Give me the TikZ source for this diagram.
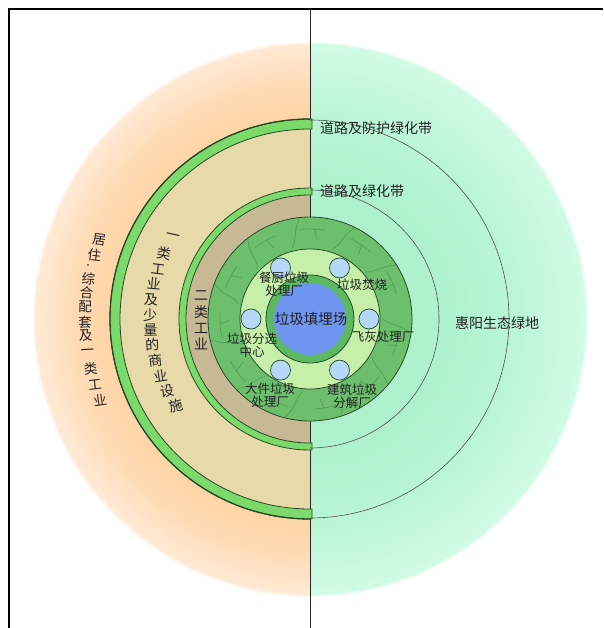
\documentclass[tikz,border=0pt]{standalone}
\usepackage{fontspec}
\newfontfamily\cjk{Noto Sans CJK SC}
\definecolor{oA}{HTML}{FFD3A2}
\definecolor{oB}{HTML}{FFDAB3}
\definecolor{oC}{HTML}{FFEAD6}
\definecolor{gA}{HTML}{ADF2CD}
\definecolor{gB}{HTML}{BBF6D6}
\definecolor{gC}{HTML}{D0FAE5}
\definecolor{tanband}{HTML}{E8D9A9}
\definecolor{darktan}{HTML}{C8B995}
\definecolor{ringgreen}{HTML}{7BDA6B}
\definecolor{ringdark}{HTML}{244A26}
\definecolor{stone}{HTML}{6DBF6E}
\definecolor{crackc}{HTML}{3C8A44}
\definecolor{lightring}{HTML}{C6F0AA}
\definecolor{innerring}{HTML}{5EB861}
\definecolor{pool}{HTML}{6E95EF}
\definecolor{dot}{HTML}{B5D8F8}
\definecolor{txt}{HTML}{222222}
\definecolor{arcc}{HTML}{505050}
\pgfdeclareradialshading{orangefade}{\pgfpoint{0bp}{0bp}}{color(0bp)=(oA); color(17bp)=(oA); color(21bp)=(oB); color(24.7bp)=(oC); color(25bp)=(white); color(50bp)=(white)}
\pgfdeclareradialshading{greenfade}{\pgfpoint{0bp}{0bp}}{color(0bp)=(gA); color(12bp)=(gA); color(18.5bp)=(gB); color(24.7bp)=(gC); color(25bp)=(white); color(50bp)=(white)}
\tikzset{
  ring/.style={fill=ringgreen, draw=ringdark, line width=0.8pt},
  arcline/.style={draw=arcc, line width=0.6pt},
  crack/.style={draw=crackc, line width=0.7pt, opacity=0.55},
  outl/.style={draw=ringdark, line width=0.8pt},
  minidot/.style={circle, minimum size=20pt, inner sep=0pt, fill=dot, draw=ringdark, line width=0.7pt},
  lab/.style={font=\cjk\fontsize{12.5}{12.5}\selectfont, text=txt, align=center, inner sep=0pt},
  biglab/.style={font=\cjk\fontsize{14}{14}\selectfont, text=txt, inner sep=0pt},
  vch/.style={font=\cjk\fontsize{14}{14}\selectfont, text=txt, inner sep=0pt},
  vchs/.style={font=\cjk\fontsize{13.5}{13.5}\selectfont, text=txt, inner sep=0pt}
}
\begin{document}
\begin{tikzpicture}[x=1pt,y=-1pt]
\useasboundingbox (0,0) rectangle (603,628);
\fill[white] (0,0) rectangle (603,628);
% background halves
\begin{scope}
  \clip (0,0) rectangle (310,628);
  \shade[shading=orangefade] (310,319) circle[radius=278];
\end{scope}
\begin{scope}
  \clip (310,0) rectangle (603,628);
  \shade[shading=greenfade] (310,319) circle[radius=278];
\end{scope}
% left bands
\fill[tanband] (310,129) arc[start angle=270,end angle=90,radius=190] -- cycle;
\fill[darktan] (310,195) arc[start angle=270,end angle=90,radius=124] -- cycle;
% frame and axis
\draw[line width=1.6pt, black] (603,9) -- (9,9) -- (9,628);
\draw[line width=0.9pt, black!85] (310,9) -- (310,628);
% green rings
\filldraw[ring] (312,119) -- (310,119) arc[start angle=270,end angle=90,radius=200] -- (312,519) -- (312,509) -- (310,509) arc[start angle=90,end angle=270,radius=190] -- (312,129) -- cycle;
\draw[ringdark, line width=1.3pt] (310,119) arc[start angle=270,end angle=90,radius=200];
\filldraw[ring] (312,188) -- (310,188) arc[start angle=270,end angle=90,radius=131] -- (312,450) -- (312,443) -- (310,443) arc[start angle=90,end angle=270,radius=124] -- (312,195) -- cycle;
% right arcs
\draw[arcline] (310,120) arc[start angle=-90,end angle=90,radius=199];
\draw[arcline] (310,190) arc[start angle=-90,end angle=90,radius=129];
% stone ring
\fill[stone] (310,319) circle[radius=102];
\begin{scope}[shift={(310,319)}]
  \clip circle[radius=101];
  \foreach \a in {0,32,...,330} {
    \draw[crack] ({\a}:73) .. controls ({\a+5}:82) and ({\a+3}:89) .. ({\a+8}:101);
    \draw[crack] ({\a+8}:90) arc[start angle={\a+8}, end angle={\a+24}, radius=90];
    \draw[crack] ({\a+17}:90) -- ({\a+19}:80);
  }
\end{scope}
\draw[outl] (310,319) circle[radius=102];
\filldraw[fill=lightring, draw=ringdark, line width=0.8pt] (310,319) circle[radius=70];
\filldraw[fill=innerring, draw=ringdark, line width=0.8pt] (310,319) circle[radius=44];
\fill[pool] (310,319) circle[radius=36];
% small facility circles
\foreach \a [count=\i] in {0,60,120,180,240,300}
  \node[minidot] (d\i) at ({310+59*cos(\a)},{319+59*sin(\a)}) {};
% central labels
\node[font=\cjk\fontsize{14.5}{14.5}\selectfont, text=txt, inner sep=0pt] (landfill) at (311,319) {垃圾填埋场};
\node[lab] (canchu) at (284,284) {餐厨垃圾\\处理厂};
\node[lab] (fenshao) at (362,285) {垃圾焚烧};
\node[lab] (fenxuan) at (252,345) {垃圾分选\\中心};
\node[lab] (feihui) at (383,337) {飞灰处理厂};
\node[lab] (dajian) at (270,395) {大件垃圾\\处理厂};
\node[lab] (jianzhu) at (352,396) {建筑垃圾\\分解厂};
% right labels
\node[biglab] (road1) at (376,128) {道路及防护绿化带};
\node[biglab] (road2) at (362,191) {道路及绿化带};
\node[biglab] (eco) at (497,323) {惠阳生态绿地};
% left vertical texts
\foreach \c/\yy [count=\i] in {居/240,住/255,综/279,合/293,配/307,套/322,及/336,一/352,类/369,工/385,业/400} {
  \pgfmathsetmacro\dy{\yy-319}
  \pgfmathsetmacro\xx{310-225*cos(asin(\dy/225))}
  \pgfmathsetmacro\rr{0.4*asin(\dy/225)}
  \node[vchs, rotate=\rr] (oc\i) at (\xx,\yy) {\c};
}
\node[font=\cjk\fontsize{8}{8}\selectfont, text=txt, inner sep=0pt] (ocdot) at (88,267) {·};
\foreach \c/\yy [count=\i] in {一/237,类/253,工/269,业/284,及/300,少/315,量/330,的/345,商/360,业/376,设/391,施/406} {
  \pgfmathsetmacro\dy{\yy-319}
  \pgfmathsetmacro\xx{310-160*cos(asin(\dy/160))}
  \pgfmathsetmacro\rr{0.4*asin(\dy/160)}
  \node[vch, rotate=\rr] (mc\i) at (\xx,\yy) {\c};
}
\foreach \c/\yy [count=\i] in {二/296,类/312,工/328,业/344}
  \node[vch] (ic\i) at (201,\yy) {\c};
\end{tikzpicture}
\end{document}
